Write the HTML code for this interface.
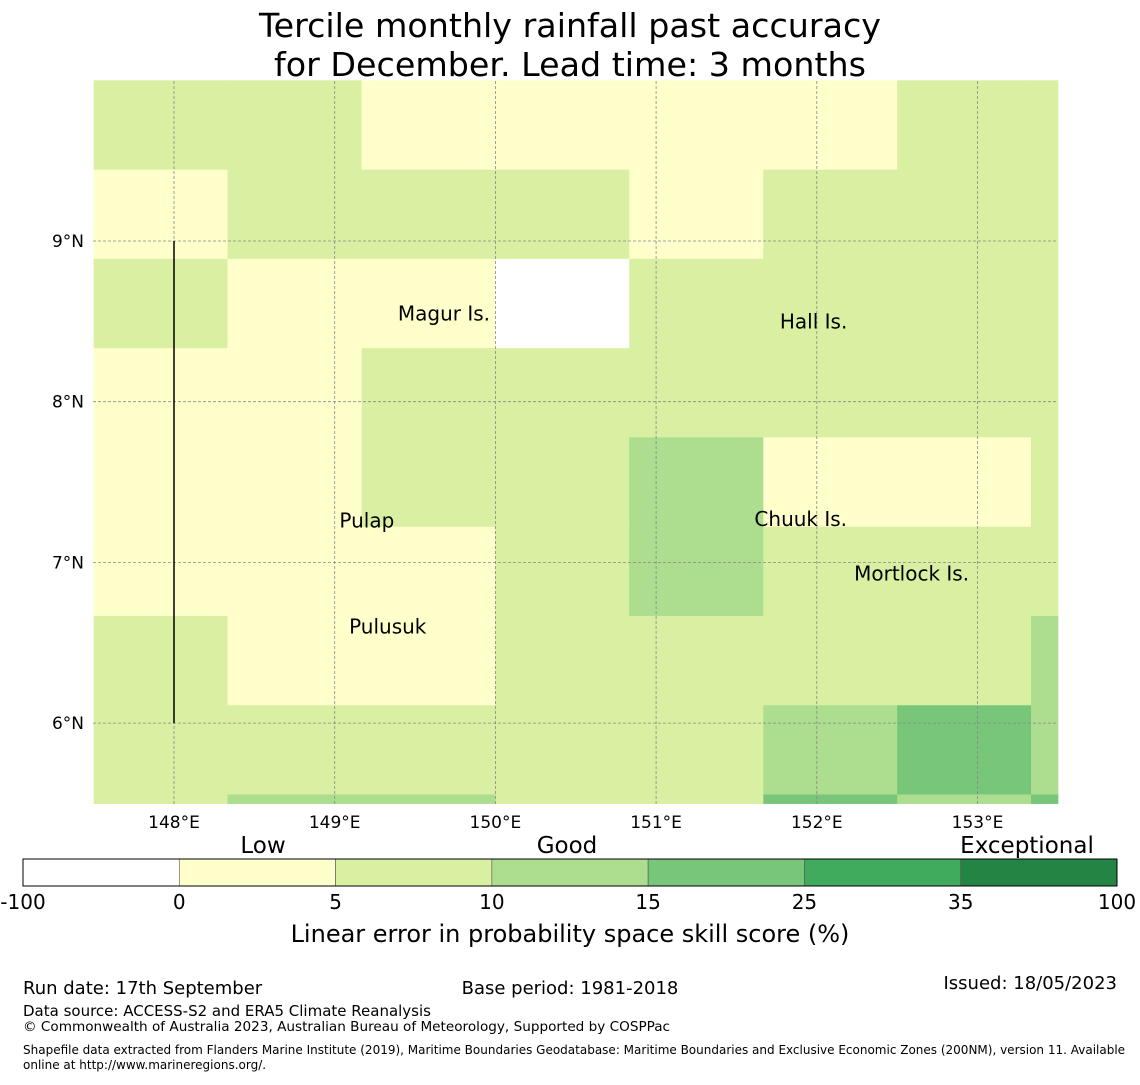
<!DOCTYPE html>
<html><head><meta charset="utf-8"><style>
body{margin:0;background:#fff;}
svg text{font-family:"DejaVu Sans","Liberation Sans",sans-serif;}
</style></head><body>
<svg id="s" width="1140" height="1080" xmlns="http://www.w3.org/2000/svg">
<text x="570" y="37" font-size="33.3" text-anchor="middle">Tercile monthly rainfall past accuracy</text>
<text x="570" y="76" font-size="33.3" text-anchor="middle">for December. Lead time: 3 months</text>
<g id="map"></g>
<g id="cb"></g>
<text x="570" y="942" font-size="24" text-anchor="middle">Linear error in probability space skill score (%)</text>
<text x="23" y="994" font-size="18">Run date: 17th September</text>
<text x="570" y="994" font-size="18" text-anchor="middle">Base period: 1981-2018</text>
<text x="1117" y="989" font-size="18" text-anchor="end">Issued: 18/05/2023</text>
<text x="23" y="1016" font-size="15">Data source: ACCESS-S2 and ERA5 Climate Reanalysis</text>
<text x="23" y="1031" font-size="13.6">© Commonwealth of Australia 2023, Australian Bureau of Meteorology, Supported by COSPPac</text>
<text x="23" y="1054" font-size="12">Shapefile data extracted from Flanders Marine Institute (2019), Maritime Boundaries Geodatabase: Maritime Boundaries and Exclusive Economic Zones (200NM), version 11. Available</text>
<text x="23" y="1069" font-size="12">online at http://www.marineregions.org/.</text>
</svg>
<script>
// grid data: skill scores per cell, row by row from north (top) to south
const lonEdges=[147.5,148.333,149.167,150.0,150.833,151.667,152.5,153.333,153.5];
const latEdges=[10.0,9.444,8.889,8.333,7.778,7.222,6.667,6.111,5.556,5.5];
const skill=[
[7,7,3,3,3,3,7,7],
[3,7,7,7,3,7,7,7],
[7,3,3,-5,7,7,7,7],
[3,3,7,7,7,7,7,7],
[3,3,7,7,12,3,3,7],
[3,3,3,7,12,7,7,7],
[7,3,3,7,7,7,7,12],
[7,7,7,7,7,12,20,12],
[7,12,12,7,7,20,12,20]];
const lonTicks=[148,149,150,151,152,153];
const latTicks=[9,8,7,6];
const cbBounds=[-100,0,5,10,15,25,35,100];
const cbColors=['#ffffff','#ffffcc','#d9f0a3','#addd8e','#78c679','#41ab5d','#238443'];
const islands=[["Magur Is.",149.68,8.55],["Hall Is.",151.98,8.5],["Pulap",149.2,7.26],["Chuuk Is.",151.9,7.27],["Mortlock Is.",152.59,6.93],["Pulusuk",149.33,6.6]];
const NS='http://www.w3.org/2000/svg';
const X=l=>174+(l-148)*160.7, Y=a=>241+(9-a)*160.7;
function col(v){for(let i=cbBounds.length-2;i>=0;i--) if(v>=cbBounds[i]) return cbColors[i]; return cbColors[0];}
function mk(p,t,a){const e=document.createElementNS(NS,t);for(const k in a)e.setAttribute(k,a[k]);p.appendChild(e);return e;}
const map=document.getElementById('map');
skill.forEach((row,r)=>row.forEach((v,c)=>{
 const x0=X(lonEdges[c]),x1=X(lonEdges[c+1]),y0=Y(latEdges[r]),y1=Y(latEdges[r+1]);
 const e=mk(map,'rect',{x:x0,y:y0,width:x1-x0+0.5,height:y1-y0+0.5,fill:col(v)});
 
 
}));
lonTicks.forEach(l=>{
 const g=mk(map,'line',{x1:X(l),x2:X(l),y1:81,y2:804,stroke:'#888','stroke-width':0.8,'stroke-dasharray':'3,2'});
 
 const t=mk(map,'text',{x:X(l),y:828,'font-size':17,'text-anchor':'middle'});t.textContent=l+'°E';
 
});
latTicks.forEach(a=>{
 const g=mk(map,'line',{x1:93,x2:1058,y1:Y(a),y2:Y(a),stroke:'#888','stroke-width':0.8,'stroke-dasharray':'3,2'});
 
 const t=mk(map,'text',{x:84,y:Y(a)+6,'font-size':17,'text-anchor':'end'});t.textContent=a+'°N';
 
});
const bl=mk(map,'line',{x1:X(148),x2:X(148),y1:Y(9),y2:Y(6),stroke:'#000','stroke-width':1.5});

islands.forEach(d=>{
 const t=mk(map,'text',{x:X(d[1]),y:Y(d[2])+7,'font-size':20,'text-anchor':'middle'});t.textContent=d[0];
 
});
const cb=document.getElementById('cb');
const segW=(1117-23)/cbColors.length;
cbColors.forEach((c,i)=>{
 const e=mk(cb,'rect',{x:23+i*segW,y:859,width:segW,height:27,fill:c,stroke:'#555','stroke-width':0.6});
 
});
mk(cb,'rect',{x:23,y:859,width:1094,height:27,fill:'none',stroke:'#000','stroke-width':1});
cbBounds.forEach((b,i)=>{
 const t=mk(cb,'text',{x:23+i*segW,y:909,'font-size':20,'text-anchor':'middle'});t.textContent=b;
 
});
[["Low",263],["Good",567],["Exceptional",1027]].forEach(d=>{
 const t=mk(cb,'text',{x:d[1],y:853,'font-size':23,'text-anchor':'middle'});t.textContent=d[0];
 
});
</script>
</body></html>
